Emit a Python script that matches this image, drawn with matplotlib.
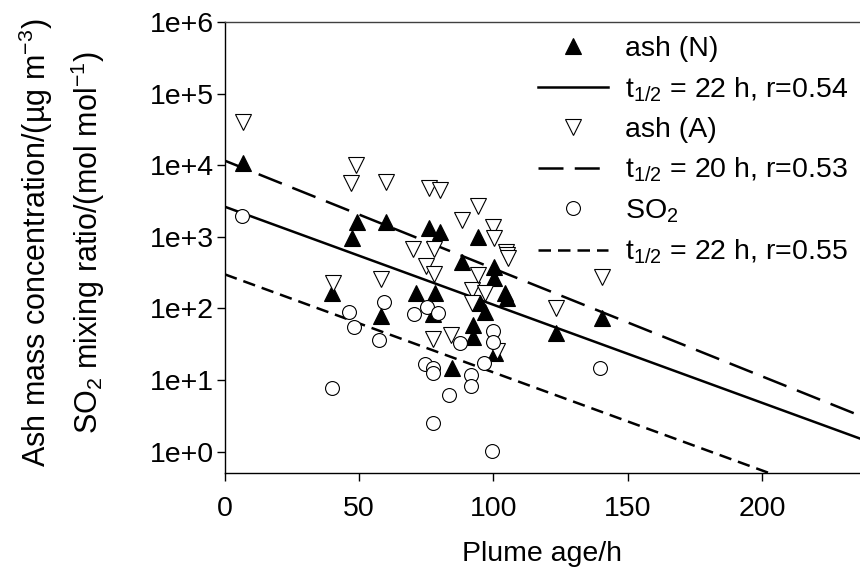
import numpy as np
import matplotlib
matplotlib.use("Agg")
import matplotlib.pyplot as plt
from matplotlib.lines import Line2D
from matplotlib.ticker import FixedLocator, FuncFormatter

plt.rcParams['font.family'] = ['Liberation Sans', 'DejaVu Sans']
plt.rcParams['mathtext.fontset'] = 'custom'
plt.rcParams['mathtext.rm'] = 'Liberation Sans'
plt.rcParams['mathtext.it'] = 'Liberation Sans:italic'
plt.rcParams['mathtext.bf'] = 'Liberation Sans:bold'

# ash (N) - filled up triangles
ashN_age = [6.8, 40.0, 47.2, 49.0, 58.1, 60.0, 71.1, 76.1, 77.6, 78.2, 80.1, 84.4,
            88.1, 92.3, 92.3, 94.1, 95.0, 96.8, 100.2, 100.2, 100.6, 104.3, 104.9,
            123.3, 140.3]
ashN_val = [10800, 163, 970, 1625, 78, 1625, 163, 1340, 85, 163, 1180, 15.0,
            449, 58.7, 39.5, 985, 118, 90, 382, 263, 24, 163, 138,
            45.8, 72.8]

# ash (A) - open down triangles
ashA_age = [6.8, 40.3, 46.9, 48.8, 58.0, 60.0, 70.0, 74.9, 76.1, 77.8, 77.8, 77.6,
            80.1, 84.0, 88.1, 91.9, 91.9, 94.1, 94.3, 96.8, 100.0, 100.2, 101.2,
            104.5, 105.0, 105.5, 123.3, 140.3]
ashA_val = [40500, 229, 5700, 10070, 255, 5890, 669, 391, 4850, 669, 302, 37,
            4500, 42.5, 1717, 181, 118, 2690, 293, 163, 1380, 953, 25.6,
            620, 557, 501, 100, 277]

# SO2 - open circles
so2_age = [6.4, 39.7, 46.3, 48.2, 57.5, 59.4, 70.4, 74.5, 75.3, 77.6, 77.6, 77.4,
           79.4, 83.4, 87.5, 91.5, 91.5, 96.5, 99.7, 99.7, 99.3, 139.7]
so2_val = [1950, 7.66, 90, 54.5, 36.2, 124, 83.6, 16.7, 106, 15.0, 12.4, 2.53,
           87, 6.2, 32.5, 11.7, 8.3, 17.5, 48.9, 33.6, 1.02, 14.7]

# exponential decay fits: value at age 0 and half-life (h)
fit_c0 = [2630, 11560, 299]
fit_half = [22, 20, 22]
fit_r = [0.54, 0.53, 0.55]

fs = 20.5

fig = plt.figure(figsize=(8.6, 5.84), dpi=100)
ax = fig.add_axes([225/860, 1 - 473.3/584, 635/860, 451.3/584])

xmax = 236.5
xx = np.array([0, xmax])
styles = ['-', (0, (10, 4.5)), (0, (5, 2.8))]
lines = []
for c0, th, ls in zip(fit_c0, fit_half, styles):
    yy = c0 * 0.5 ** (xx / th)
    ln, = ax.plot(xx, yy, color='black', lw=1.8, linestyle=ls, zorder=2)
    lines.append(ln)

ms_tri = 12
ms_circ = 10
ax.plot(ashN_age, ashN_val, linestyle='none', marker='^', ms=ms_tri, mfc='black',
        mec='black', mew=0.8, zorder=3)
ax.plot(ashA_age, ashA_val, linestyle='none', marker='v', ms=ms_tri, mfc='white',
        mec='black', mew=0.8, zorder=3)
ax.plot(so2_age, so2_val, linestyle='none', marker='o', ms=ms_circ, mfc='white',
        mec='black', mew=0.8, zorder=3)

ax.set_yscale('log')
ax.set_ylim(0.5, 1e6)
ax.set_xlim(0, xmax)
ax.yaxis.set_major_locator(FixedLocator([10.0 ** k for k in range(0, 7)]))
ax.yaxis.set_minor_locator(FixedLocator([]))
ax.yaxis.set_major_formatter(FuncFormatter(lambda v, p: "1e+%d" % round(np.log10(v))))
ax.set_xticks([0, 50, 100, 150, 200])
ax.tick_params(direction='out', length=6, width=1, labelsize=fs)
ax.tick_params(axis='y', pad=2)
ax.tick_params(axis='x', pad=10)
ax.spines['right'].set_visible(False)
for s in ['left', 'bottom', 'top']:
    ax.spines[s].set_linewidth(1)
ax.spines['top'].set_color('#404040')

ax.set_xlabel('Plume age/h', fontsize=fs, labelpad=14)
fig.text(36/860, 1 - 243/584, 'Ash mass concentration/(µg m$^{-3}$)', rotation=90,
         ha='center', va='center', fontsize=22)
fig.text(88/860, 1 - 243/584, 'SO$_2$ mixing ratio/(mol mol$^{-1}$)', rotation=90,
         ha='center', va='center', fontsize=22)

mk = dict(linestyle='none', mec='black', mew=0.8)
handles = [
    Line2D([], [], marker='^', mfc='black', markersize=ms_tri, **mk), lines[0],
    Line2D([], [], marker='v', mfc='white', markersize=ms_tri, **mk), lines[1],
    Line2D([], [], marker='o', mfc='white', markersize=ms_circ, **mk), lines[2],
]
labels = [
    'ash (N)', 't$_{1/2}$ = %d h, r=%.2f' % (fit_half[0], fit_r[0]),
    'ash (A)', 't$_{1/2}$ = %d h, r=%.2f' % (fit_half[1], fit_r[1]),
    'SO$_2$', 't$_{1/2}$ = %d h, r=%.2f' % (fit_half[2], fit_r[2]),
]
ax.legend(handles, labels, loc='upper left',
          bbox_to_anchor=((538 - 225) / 635, (473.3 - 36) / 451.3),
          frameon=False, fontsize=fs, borderpad=0, borderaxespad=0,
          handlelength=2.46, handletextpad=0.6, labelspacing=0.46)

fig.savefig('out.png', dpi=100)
